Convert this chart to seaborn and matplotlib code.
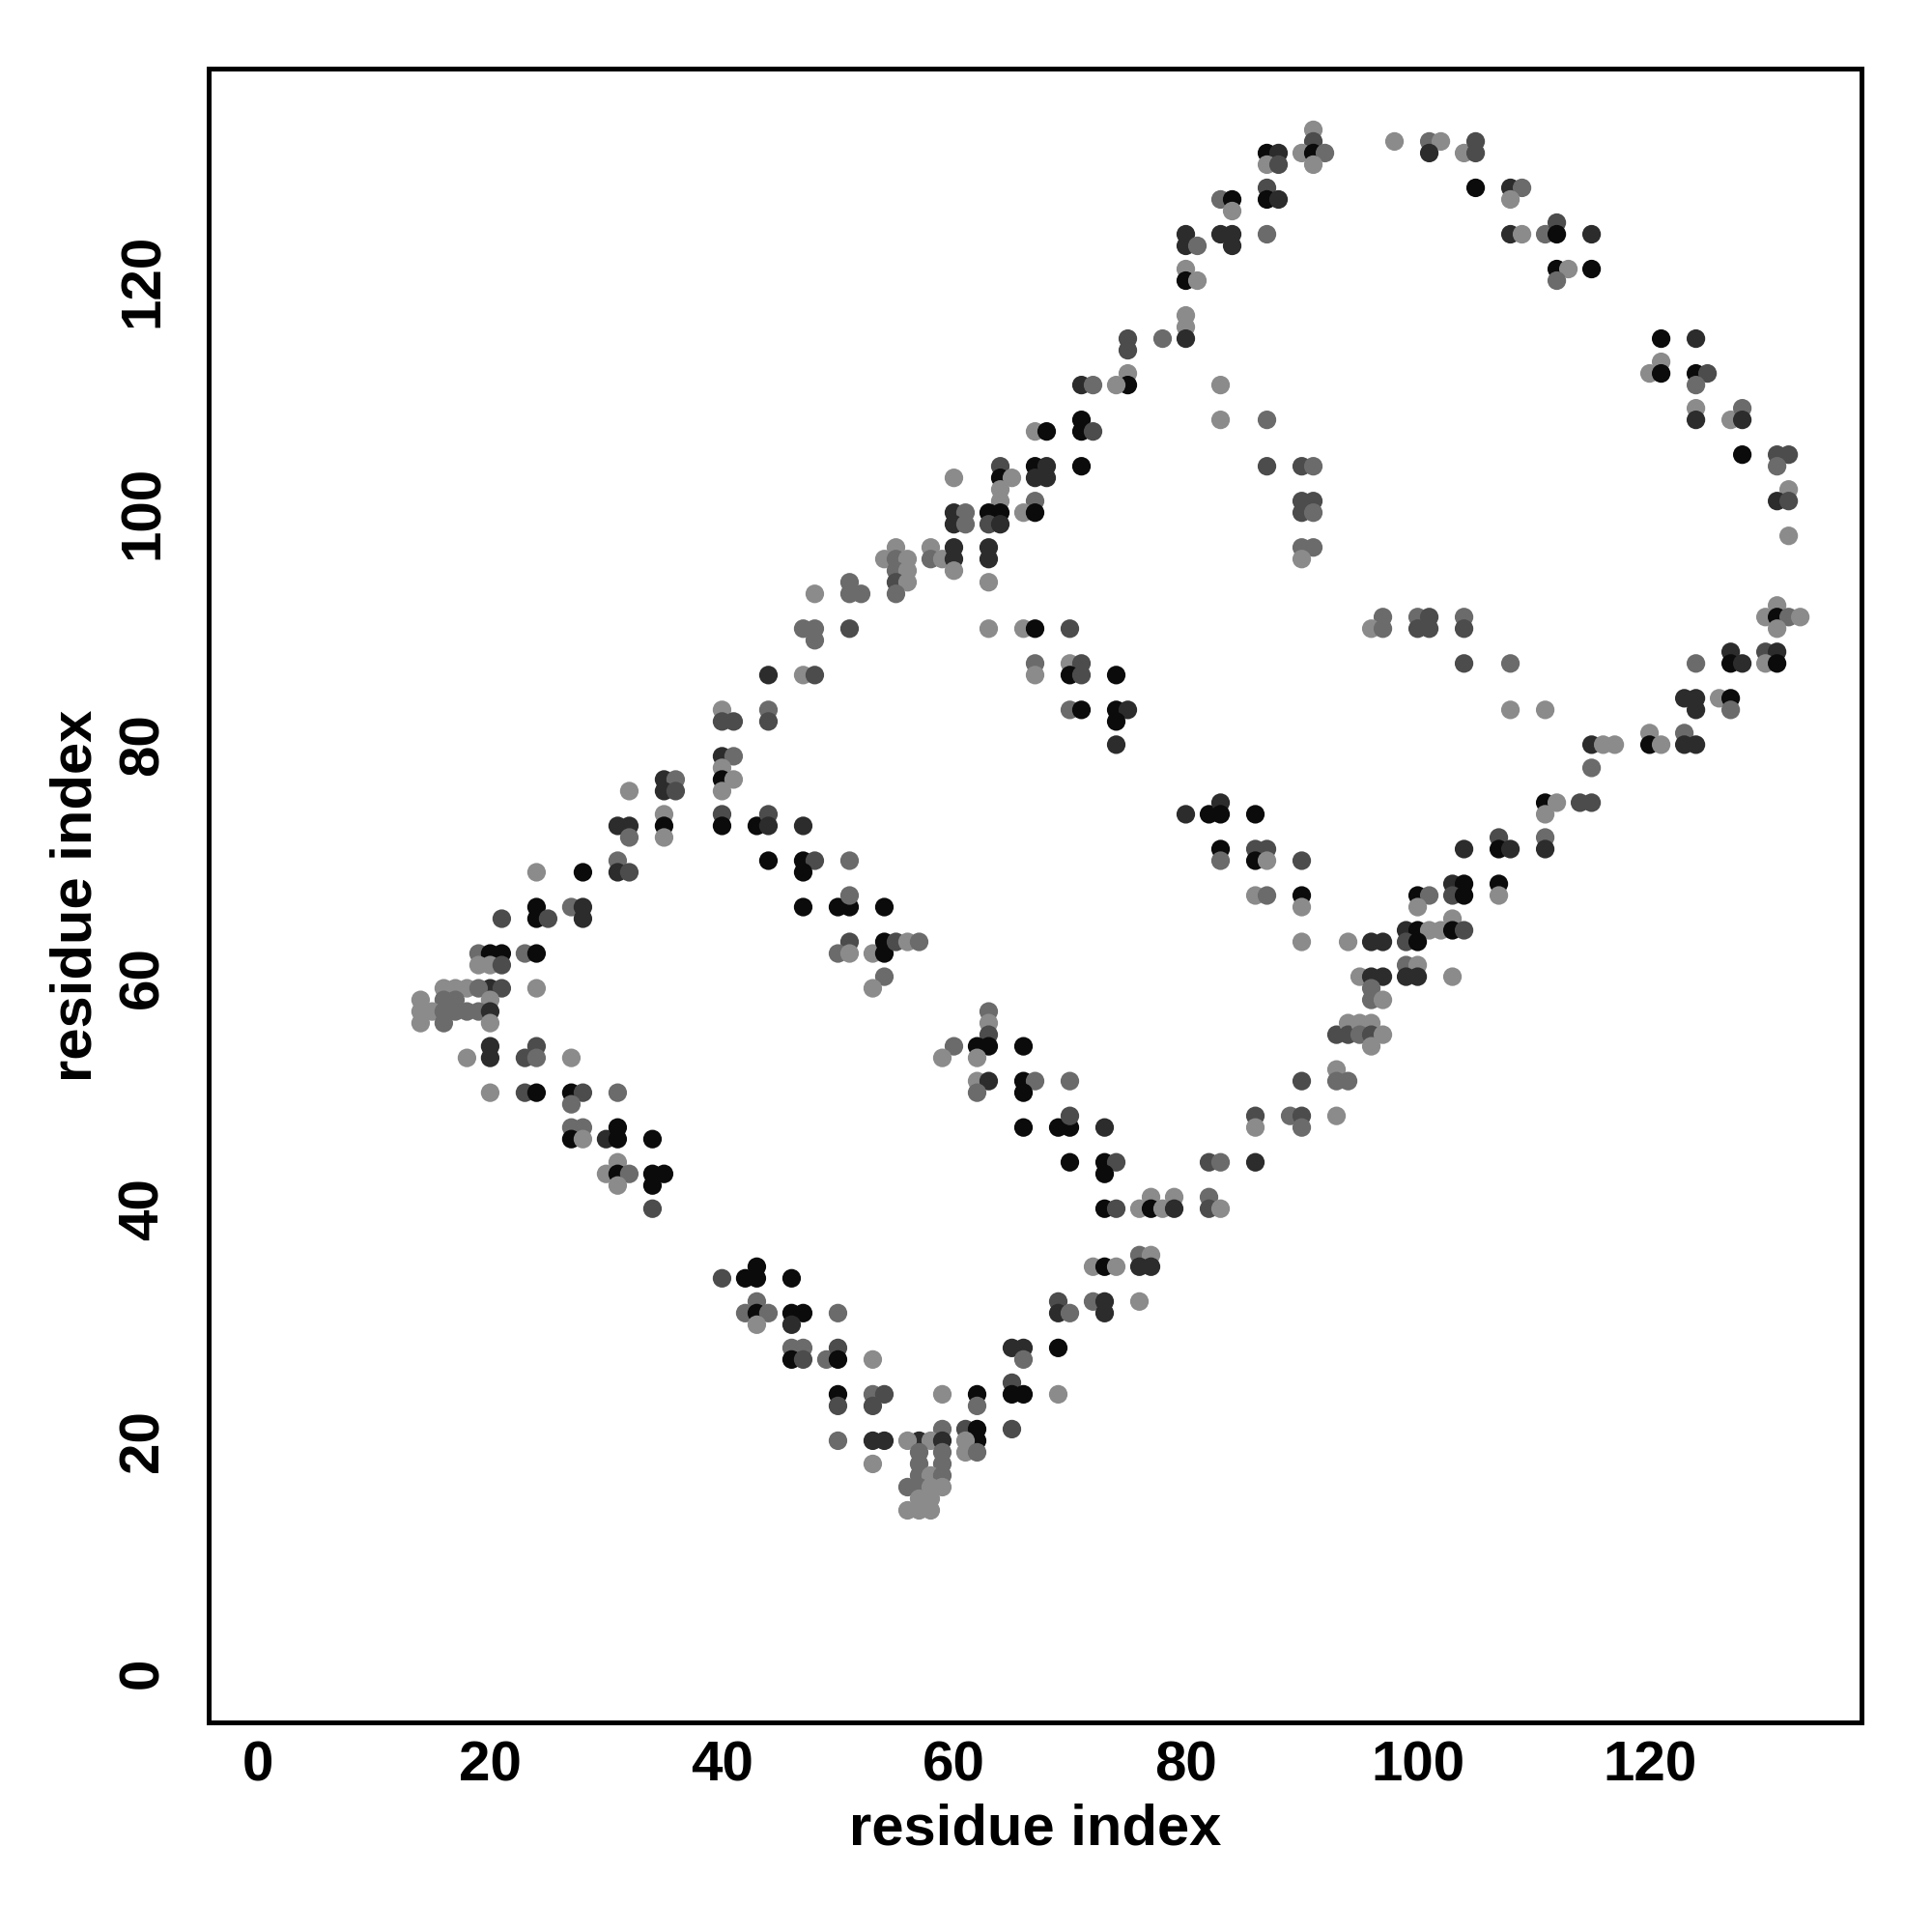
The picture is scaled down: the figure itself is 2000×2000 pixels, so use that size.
import numpy as np
import pandas as pd
import matplotlib
matplotlib.use("Agg")
import matplotlib.pyplot as plt
import seaborn as sns

# contact pairs (residue i, residue j) and shade class (0 = darkest, 4 = lightest)
pairs = [
    # upper band
    (91,133,4),(91,132,2),(90,131,4),(91,131,0),(92,131,3),(91,130,4),
    (87,131,0),(88,131,1),(87,130,4),(88,130,2),
    (87,128,2),(87,127,0),(88,127,1),(87,124,3),
    (83,127,3),(84,127,0),(84,126,4),(83,124,1),(84,124,1),(84,123,1),
    (80,124,1),(80,123,1),(81,123,3),(80,121,4),(80,120,0),(81,120,4),
    (80,117,4),(80,116,4),(80,115,1),(78,115,3),(75,115,2),(75,114,2),
    (75,112,4),(75,111,0),(74,111,4),(71,111,1),(72,111,3),
    (83,111,4),(83,108,4),(87,108,3),(87,104,2),
    (67,107,4),(68,107,0),(71,108,0),(71,107,0),(72,107,2),(71,104,0),
    (64,104,2),(64,103,0),(65,103,4),(67,104,0),(68,104,1),(67,103,1),(68,103,1),
    (60,103,4),(64,102,4),(64,101,4),(67,101,3),(66,100,4),(67,100,0),
    (60,100,1),(61,100,3),(60,99,1),(61,99,3),(63,100,0),(64,100,0),(63,99,2),(64,99,1),
    (90,104,2),(91,104,3),(90,101,2),(91,101,2),(90,100,2),(91,100,3),(90,97,3),(91,97,3),(90,96,4),
    (55,97,4),(54,96,4),(55,96,3),(56,96,4),(55,95,3),(56,95,4),(55,94,2),(56,94,4),
    (58,97,4),(58,96,3),(59,96,4),(60,97,1),(60,96,1),(60,95,4),(63,97,1),(63,96,1),(63,94,4),
    (98,132,4),(101,132,3),(102,132,4),(101,131,1),(104,131,4),(105,132,2),(105,131,2),
    (105,128,0),(108,128,1),(109,128,3),(108,127,4),
    (108,124,1),(109,124,4),(111,124,3),(112,125,2),(112,124,0),(115,124,1),
    (112,121,0),(113,121,4),(112,120,3),(115,121,0),
    (121,115,0),(124,115,1),(121,113,4),(120,112,4),(121,112,0),(124,112,0),(125,112,2),(124,111,3),
    (124,109,4),(124,108,1),(127,108,4),(128,109,3),(128,108,1),
    (128,105,0),(131,105,2),(132,105,2),(131,104,3),(132,102,4),(131,101,1),(132,101,2),(132,98,4),
    # middle left
    (48,93,4),(51,94,3),(51,93,3),(52,93,3),
    (47,90,3),(48,90,3),(48,89,3),(51,90,2),
    (44,86,1),(47,86,4),(48,86,2),
    (40,83,4),(40,82,2),(41,82,2),(44,83,3),(44,82,2),
    (40,79,1),(41,79,3),(40,78,4),(40,77,0),(41,77,4),(40,76,4),
    (35,77,1),(36,77,3),(35,76,1),(36,76,2),(32,76,4),
    (31,73,1),(32,73,1),(32,72,3),(35,74,4),(35,73,0),(35,72,4),
    (40,74,2),(40,73,0),(43,73,0),(44,74,2),(44,73,1),(47,73,1),
    (44,70,0),(47,70,0),(48,70,2),(47,69,0),(51,70,3),
    (47,66,0),(50,66,0),(51,66,0),(51,67,3),(54,66,0),
    (51,63,2),(50,62,3),(51,62,4),(53,62,4),(54,63,0),(54,62,0),(54,60,3),(53,59,4),
    (31,70,3),(31,69,1),(32,69,2),(28,69,0),(24,69,4),
    (24,66,0),(24,65,0),(25,65,2),(27,66,3),(28,66,1),(28,65,1),(21,65,2),
    (19,62,3),(20,62,0),(21,62,0),(19,61,4),(20,61,4),(21,61,2),(23,62,3),(24,62,0),
    (24,59,4),(20,59,1),(21,59,2),(16,59,4),(17,59,4),(18,59,4),(19,59,3),
    (14,58,4),(16,58,3),(17,58,3),(20,58,4),
    (14,57,4),(15,57,4),(16,57,3),(17,57,3),(18,57,3),(19,57,3),(20,57,1),
    (14,56,4),(16,56,3),(20,56,4),(20,54,1),(24,54,2),
    # centre
    (55,93,3),(63,90,4),(66,90,4),(67,90,0),(70,90,2),
    (67,87,3),(67,86,4),(70,87,4),(71,87,2),(70,86,0),(71,86,2),(74,86,0),
    (70,83,3),(71,83,0),(74,83,0),(75,83,1),(74,82,0),(74,80,1),
    (80,74,1),(82,74,0),(83,75,1),(83,74,0),(86,74,0),
    (83,71,0),(83,70,3),(86,71,2),(87,71,2),(86,70,0),(87,70,4),(90,70,2),
    (86,67,4),(87,67,3),(90,67,0),(90,66,4),(90,63,4),(94,63,4),
    (55,63,2),(56,63,4),(57,63,3),
    (63,57,3),(63,56,4),(63,55,2),(60,54,3),(62,54,0),(63,54,0),(66,54,0),
    (93,55,2),(94,56,4),(94,55,2),
    # right band
    (97,91,3),(96,90,4),(97,90,3),(100,91,3),(101,91,2),(100,90,2),(101,90,2),(104,91,3),(104,90,2),(104,87,2),
    (108,87,3),(108,83,4),(111,83,4),
    (131,92,4),(130,91,4),(131,91,0),(132,91,3),(133,91,4),(131,90,4),
    (124,87,3),(127,88,1),(127,87,0),(128,87,1),(130,88,2),(131,88,1),(130,87,4),(131,87,0),
    (123,84,1),(124,84,1),(124,83,1),(126,84,4),(127,84,0),(127,83,3),
    (120,81,4),(120,80,0),(121,80,4),(123,81,3),(123,80,1),(124,80,1),
    (115,80,1),(116,80,4),(117,80,4),(115,78,3),
    (111,75,0),(112,75,4),(111,74,4),(114,75,2),(115,75,2),
    (107,72,2),(107,71,0),(108,71,1),(111,72,3),(111,71,1),(104,71,1),
    (103,68,1),(104,68,0),(103,67,2),(104,67,0),(107,68,0),(107,67,4),
    (100,67,0),(101,67,3),(100,66,4),
    (99,64,1),(100,64,0),(101,64,4),(102,64,4),(103,65,4),(103,64,0),(104,64,2),
    (99,63,2),(100,63,0),(96,63,1),(97,63,1),
    (99,61,3),(100,61,4),(99,60,1),(100,60,1),(103,60,4),
    (95,60,4),(96,60,1),(97,60,1),(96,59,3),(96,58,3),(97,58,4),
    (95,56,4),(96,56,4),(95,55,3),(96,55,2),(97,55,4),(96,54,4),
    # lower left band
    (20,53,1),(18,53,4),(23,53,2),(24,53,3),(27,53,4),
    (20,50,4),(23,50,2),(24,50,0),(27,50,0),(28,50,2),(31,50,3),(27,49,3),
    (27,47,3),(28,47,3),(27,46,0),(28,46,4),(30,46,1),(31,47,0),(31,46,0),(34,46,0),
    (30,43,4),(31,44,4),(31,43,0),(32,43,3),(31,42,4),(34,43,0),(35,43,0),(34,42,0),(34,40,2),
    (40,34,2),(42,34,0),(43,35,0),(43,34,0),(46,34,0),
    (42,31,3),(43,32,3),(43,31,0),(44,31,3),(43,30,4),(46,31,0),(47,31,0),(46,30,1),(50,31,3),
    (46,28,3),(47,28,3),(46,27,0),(47,27,2),(49,27,3),(50,28,2),(50,27,0),(53,27,4),
    (50,24,0),(50,23,2),(53,24,3),(54,24,2),(53,23,2),(50,20,3),(53,20,1),(54,20,1),(53,18,4),
    # lower right band
    (59,53,4),(62,53,4),
    (62,51,4),(63,51,1),(62,50,3),(66,51,0),(67,51,3),(66,50,0),(70,51,3),
    (66,47,0),(69,47,0),(70,47,0),(70,48,2),(73,47,1),
    (70,44,0),(73,44,0),(74,44,2),(73,43,0),
    (82,44,2),(83,44,3),(86,44,1),(86,48,2),(86,47,4),(89,48,3),(90,48,2),(90,47,3),(90,51,2),
    (93,52,4),(93,51,3),(94,51,3),(93,48,4),
    (73,40,0),(74,40,2),(76,40,4),(77,41,4),(77,40,0),(78,40,4),(79,41,4),(79,40,1),(82,41,3),(82,40,2),(83,40,4),
    (72,35,4),(73,35,0),(74,35,4),(76,36,3),(77,36,4),(76,35,1),(77,35,1),
    (69,32,2),(69,31,1),(70,31,3),(72,32,3),(73,32,1),(73,31,1),(76,32,4),
    (65,28,1),(66,28,1),(66,27,3),(69,28,0),
    (65,25,2),(65,24,0),(66,24,0),(69,24,4),(59,24,4),(62,24,0),(62,23,3),
    (65,21,2),(59,21,3),(61,21,2),(62,21,0),(62,20,0),(61,20,4),(61,19,4),(62,19,3),
    (57,20,1),(56,20,4),(58,20,4),(59,20,1),(59,19,3),
    (57,19,3),(57,18,3),(59,18,3),(57,17,3),(58,17,4),(59,17,3),
    (56,16,3),(57,16,3),(58,16,4),(59,16,4),(57,15,4),(58,15,4),(56,14,4),(57,14,4),(58,14,4),
]

res_i = [p[0] for p in pairs]
res_j = [p[1] for p in pairs]
shade = [p[2] for p in pairs]
shade_colors = {0: "#0b0b0b", 1: "#2c2c2c", 2: "#4c4c4c", 3: "#6b6b6b", 4: "#8b8b8b"}
tick_vals = [0, 20, 40, 60, 80, 100, 120]

df = pd.DataFrame({"i": res_i, "j": res_j, "shade": shade})

sns.set_theme(style="white")
plt.rcParams["font.family"] = ["Liberation Sans", "DejaVu Sans"]
plt.rcParams["font.weight"] = "bold"
plt.rcParams["text.color"] = "black"
plt.rcParams["axes.labelcolor"] = "black"
plt.rcParams["xtick.color"] = "black"
plt.rcParams["ytick.color"] = "black"

fig = plt.figure(figsize=(10, 10), dpi=200)
ax = fig.add_axes([0.108, 0.1085, 0.8555, 0.856])

sns.scatterplot(data=df, x="i", y="j", hue="shade", palette=shade_colors,
                s=48, linewidth=0, legend=False, ax=ax)

ax.set_xlim(-4.28, 138.28)
ax.set_ylim(-4.28, 138.28)
ax.set_xticks(tick_vals)
ax.set_yticks(tick_vals)
ax.set_xticklabels([str(v) for v in tick_vals], fontsize=21, fontweight="bold", color="black")
ax.set_yticklabels([str(v) for v in tick_vals], fontsize=21, fontweight="bold", color="black",
                   rotation=90, va="center")
ax.tick_params(axis="both", direction="out", length=3.6, width=1.0, color="black")
ax.tick_params(axis="x", pad=3)
ax.tick_params(axis="y", pad=11)
for sp in ax.spines.values():
    sp.set_color("black")
    sp.set_linewidth(1.8)

ax.set_xlabel("residue index", fontsize=21.5, fontweight="bold", color="black")
ax.set_ylabel("residue index", fontsize=21.5, fontweight="bold", color="black")
ax.xaxis.set_label_coords(0.5, -0.049)
ax.yaxis.set_label_coords(-0.064, 0.5)

fig.savefig("out.png", dpi=200, facecolor="white")
